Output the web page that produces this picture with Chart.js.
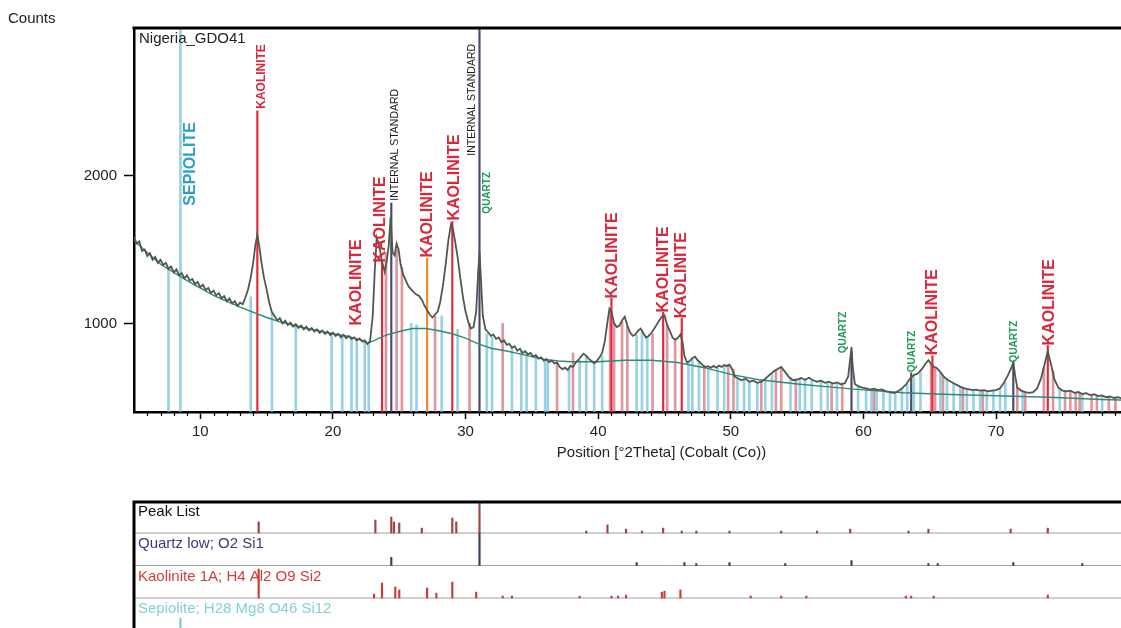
<!DOCTYPE html>
<html>
<head>
<meta charset="utf-8">
<title>Nigeria_GDO41</title>
<script src="https://cdn.jsdelivr.net/npm/chart.js@4.4.1/dist/chart.umd.min.js"></script>
<style>
  html, body { margin: 0; padding: 0; background: #fff; overflow: hidden; }
  #page { position: relative; width: 1121px; height: 628px; overflow: hidden; }
  #mainChart { position: absolute; left: 0; top: 0; }
  #peakChart { position: absolute; left: 0; top: 495px; }
</style>
</head>
<body>
<div id="page">
  <canvas id="mainChart" width="1200" height="470"></canvas>
  <canvas id="peakChart" width="1200" height="140"></canvas>
</div>
<script>
const FONT = '"Liberation Sans", Arial, sans-serif';

// measured scan: [°2Theta, counts]
const measured = [
  [5.0,1585],[5.2,1540],[5.4,1555],[5.6,1490],[5.8,1500],[6.0,1455],[6.2,1475],[6.4,1430],[6.6,1450],[6.8,1410],
  [7.0,1430],[7.2,1395],[7.4,1410],[7.6,1370],[7.8,1385],[8.0,1345],[8.2,1365],[8.4,1325],[8.6,1340],[8.8,1305],
  [9.0,1325],[9.2,1290],[9.4,1300],[9.6,1265],[9.8,1280],[10.0,1245],[10.2,1262],[10.4,1225],[10.6,1240],[10.8,1205],
  [11.0,1222],[11.2,1190],[11.4,1205],[11.6,1170],[11.8,1185],[12.0,1150],[12.2,1168],[12.4,1135],[12.6,1150],[12.8,1118],
  [13.0,1140],[13.2,1130],[13.4,1175],[13.6,1230],[13.8,1310],[14.0,1420],[14.15,1530],[14.3,1600],[14.45,1520],[14.6,1420],
  [14.8,1310],[15.0,1230],[15.2,1140],[15.4,1075],[15.6,1050],[15.8,1020],[16.0,1035],[16.2,1000],[16.4,1018],[16.6,990],
  [16.8,1005],[17.0,978],[17.2,995],[17.4,970],[17.6,985],[17.8,960],[18.0,978],[18.2,952],[18.4,968],[18.6,945],
  [18.8,960],[19.0,935],[19.2,952],[19.4,928],[19.6,945],[19.8,920],[20.0,938],[20.2,915],[20.4,930],[20.6,905],
  [20.8,922],[21.0,900],[21.2,915],[21.4,895],[21.6,905],[21.8,885],[22.0,898],[22.2,878],[22.4,885],[22.6,860],
  [22.8,880],[23.0,1050],[23.15,1350],[23.3,1580],[23.45,1540],[23.6,1470],[23.75,1400],[23.9,1350],[24.05,1420],[24.2,1520],
  [24.35,1720],[24.5,1480],[24.65,1460],[24.8,1540],[24.95,1500],[25.1,1400],[25.3,1330],[25.5,1290],[25.7,1250],[25.9,1230],
  [26.1,1210],[26.3,1195],[26.5,1185],[26.7,1160],[26.9,1120],[27.1,1090],[27.3,1060],[27.5,1040],[27.7,1060],[27.9,1080],
  [28.1,1150],[28.3,1260],[28.5,1400],[28.7,1560],[28.9,1670],[29.05,1640],[29.2,1560],[29.4,1450],[29.6,1310],[29.8,1180],
  [30.0,1080],[30.2,1010],[30.4,965],[30.6,975],[30.8,1080],[30.95,1350],[31.05,1480],[31.15,1320],[31.3,1050],[31.5,960],
  [31.7,940],[31.9,915],[32.1,925],[32.3,895],[32.5,905],[32.7,872],[32.9,885],[33.1,855],[33.3,862],[33.5,835],
  [33.7,845],[33.9,815],[34.1,828],[34.3,800],[34.5,812],[34.7,790],[34.9,800],[35.1,775],[35.3,785],[35.5,762],
  [35.7,770],[35.9,748],[36.1,758],[36.3,738],[36.5,748],[36.7,728],[36.9,735],[37.1,705],[37.3,690],[37.5,700],
  [37.7,685],[37.9,712],[38.1,705],[38.3,735],[38.5,752],[38.7,775],[38.9,795],[39.1,780],[39.3,760],[39.5,745],
  [39.7,730],[39.9,745],[40.1,770],[40.3,800],[40.5,880],[40.7,1010],[40.85,1100],[41.0,1080],[41.2,1000],[41.4,975],
  [41.6,985],[41.8,1020],[42.0,1045],[42.2,985],[42.4,940],[42.6,915],[42.8,925],[43.0,950],[43.2,965],[43.4,935],
  [43.6,905],[43.8,915],[44.0,935],[44.2,960],[44.4,990],[44.6,1020],[44.8,1045],[45.0,1055],[45.2,990],[45.4,950],
  [45.6,905],[45.8,890],[46.0,900],[46.2,925],[46.35,880],[46.5,780],[46.7,735],[46.9,745],[47.1,765],[47.3,775],
  [47.5,750],[47.7,735],[47.9,715],[48.1,705],[48.3,710],[48.5,700],[48.7,712],[48.9,700],[49.1,715],[49.3,705],
  [49.5,718],[49.7,712],[49.9,720],[50.1,690],[50.3,640],[50.5,630],[50.8,615],[51.1,625],[51.4,605],[51.7,612],
  [52.0,598],[52.3,605],[52.6,625],[52.9,650],[53.2,672],[53.5,690],[53.8,705],[54.1,670],[54.4,635],[54.7,615],
  [55.0,620],[55.3,630],[55.6,618],[55.9,632],[56.2,615],[56.5,605],[56.8,612],[57.1,598],[57.4,605],[57.7,592],
  [58.0,600],[58.3,588],[58.6,595],[58.85,640],[59.0,760],[59.1,840],[59.2,700],[59.35,590],[59.6,575],[59.9,565],
  [60.2,560],[60.5,552],[60.8,558],[61.1,548],[61.4,552],[61.7,540],[62.0,535],[62.3,528],[62.6,540],[62.9,560],
  [63.2,585],[63.5,625],[63.8,650],[64.1,660],[64.4,690],[64.7,730],[64.9,750],[65.1,725],[65.3,705],[65.5,700],
  [65.8,670],[66.1,635],[66.4,615],[66.7,600],[67.0,585],[67.3,572],[67.6,560],[67.9,555],[68.2,548],[68.5,552],
  [68.8,545],[69.1,548],[69.4,540],[69.7,545],[70.0,548],[70.3,560],[70.6,600],[70.9,650],[71.15,700],[71.3,735],
  [71.45,640],[71.6,565],[71.9,545],[72.2,535],[72.5,530],[72.8,535],[73.1,560],[73.4,630],[73.65,720],[73.9,810],
  [74.15,720],[74.4,620],[74.7,565],[75.0,545],[75.3,540],[75.6,545],[75.9,530],[76.2,535],[76.5,522],[76.8,528],
  [77.1,515],[77.4,520],[77.7,508],[78.0,512],[78.3,500],[78.6,505],[78.9,495],[79.2,500],[79.5,490],[80.0,488]
];

// fitted background: [°2Theta, counts]
const background = [
  [5,1560],[7,1400],[9,1290],[11,1190],[13,1110],[14,1075],[15,1040],[16,1010],[18,965],[20,930],
  [21,915],[22,890],[22.6,865],[23,880],[24,920],[25,945],[26,965],[27,965],[28,950],[29,930],
  [30,900],[31,860],[32,830],[33,815],[34,795],[35,775],[36,755],[37,745],[38,740],[40,740],
  [42,750],[44,750],[46,735],[48,700],[50,655],[52,620],[55,590],[58,565],[60,550],[63,530],
  [66,520],[70,510],[74,500],[78,485],[80,480]
];

// reference sticks: [°2Theta, top in counts]
const sepioliteSticks = [
  [7.6,1380],[8.5,3000],[13.8,1180],[15.4,1070],[17.2,985],[19.9,925],[20.7,910],[21.4,900],[21.8,890],[22.4,880],
  [22.7,875],[25.9,1000],[26.3,990],[28.2,1050],[29.4,960],[31.6,930],[32.0,910],[33.5,840],[34.2,810],[34.6,800],
  [35.3,780],[36.0,755],[36.2,750],[37.8,700],[38.6,750],[39.1,780],[39.7,735],[40.3,780],[42.9,920],[43.3,940],
  [43.7,905],[46.8,735],[47.1,760],[47.6,740],[48.3,700],[49.0,700],[49.5,710],[50.5,630],[51.0,620],[51.4,605],
  [52.0,600],[52.6,620],[53.1,660],[54.5,630],[55.2,625],[55.6,618],[56.1,615],[56.8,610],[57.3,600],[58.0,600],
  [59.6,575],[60.2,560],[60.6,552],[61.0,550],[61.5,550],[62.0,535],[62.4,530],[62.9,560],[63.3,590],[63.8,640],
  [64.3,670],[65.8,665],[66.3,620],[66.8,595],[67.3,570],[67.8,555],[68.3,550],[68.8,545],[69.3,545],[69.8,545],
  [70.3,555],[70.7,600],[72.0,535],[74.8,560],[76.5,525],[78.0,510]
];
const kaoliniteSticks = [
  [24.0,1480],[24.8,1500],[25.2,1380],[27.7,1050],[30.3,1000],[32.8,1000],[36.9,735],[38.1,800],[40.9,1080],[41.2,1000],
  [41.8,1010],[42.2,980],[44.1,930],[45.2,990],[45.8,890],[48.0,710],[49.8,715],[50.2,690],[52.3,605],[53.4,690],
  [53.8,700],[54.9,618],[57.6,592],[58.4,590],[60.8,556],[65.1,725],[65.4,700],[66.0,640],[67.5,565],[69.0,548],
  [71.6,565],[72.2,535],[73.6,700],[74.3,680],[75.2,545],[75.6,545],[76.0,530],[76.3,535],[77.2,515],[77.6,515],
  [78.5,505],[79.0,500]
];
const kaoliniteMarked = [[14.3,2440],[23.7,1420],[29.0,1690],[41.0,1170],[44.9,1075],[46.3,1035],[65.2,780],[73.9,850]];
const otherMarked = [[27.1,1440]];
const quartzSticks = [[24.4,1815],[31.05,3000],[59.1,800],[63.6,665],[71.3,735]];

// peak annotations: [text, °2Theta, counts at the foot of the label, kind]
const peakLabels = [
  ['SEPIOLITE', 9.25, 1797, 'sepiolite'],
  ['KAOLINITE', 14.6, 2453, 'kaoliniteSmall'],
  ['KAOLINITE', 21.8, 986, 'kaolinite'],
  ['KAOLINITE', 23.6, 1412, 'kaolinite'],
  ['INTERNAL STANDARD', 24.7, 1831, 'standard'],
  ['KAOLINITE', 27.1, 1446, 'kaolinite'],
  ['KAOLINITE', 29.15, 1696, 'kaolinite'],
  ['INTERNAL STANDARD', 30.5, 2135, 'standard'],
  ['QUARTZ', 31.6, 1743, 'quartz'],
  ['KAOLINITE', 41.1, 1169, 'kaolinite'],
  ['KAOLINITE', 44.9, 1074, 'kaolinite'],
  ['KAOLINITE', 46.3, 1034, 'kaolinite'],
  ['QUARTZ', 58.5, 797, 'quartz'],
  ['QUARTZ', 63.7, 669, 'quartz'],
  ['KAOLINITE', 65.2, 784, 'kaolinite'],
  ['QUARTZ', 71.4, 736, 'quartz'],
  ['KAOLINITE', 74.0, 851, 'kaolinite']
];

const xTicks = [10, 20, 30, 40, 50, 60, 70];
const yTicks = [1000, 2000];
const X_MIN = 5, X_MAX = 85, Y_MIN = 400, Y_MAX = 3000;

// lower panel: row baselines 3,2,1,0 ; sticks [°2Theta, height in row units]
const rowNames = ['Peak List', 'Quartz low; O2 Si1', 'Kaolinite 1A; H4 Al2 O9 Si2', 'Sepiolite; H28 Mg8 O46 Si12'];
const peakListSticks = [
  [14.4,.34],[23.2,.40],[24.4,.49],[24.6,.34],[25.0,.31],[26.7,.15],[29.0,.46],[29.3,.34],[31.05,.95],[39.1,.06],
  [40.7,.25],[42.1,.12],[43.3,.06],[44.9,.15],[46.3,.06],[47.4,.06],[49.9,.06],[53.8,.06],[56.5,.06],[59.0,.12],
  [63.4,.06],[64.9,.12],[71.1,.12],[73.9,.15]
];
const quartzRefSticks = [
  [24.4,.25],[31.05,1],[42.9,.09],[46.5,.09],[47.4,.06],[49.9,.09],[54.1,.06],[59.1,.15],[64.9,.06],[65.6,.06],
  [71.3,.09],[76.5,.06]
];
const kaoliniteRefSticks = [
  [14.4,.89],[23.1,.12],[23.7,.46],[24.7,.34],[25.0,.25],[27.1,.31],[27.8,.15],[29.0,.49],[30.8,.18],[32.8,.06],
  [33.5,.06],[38.6,.06],[41.0,.06],[41.5,.06],[42.1,.09],[44.8,.18],[45.0,.21],[46.2,.25],[51.5,.06],[53.8,.06],
  [55.7,.06],[63.2,.06],[63.6,.06],[65.3,.06],[73.9,.09]
];
const sepioliteRefSticks = [[8.5,.38]];

const labelStyle = {
  sepiolite:      { font: 'bold 16px ' + FONT, color: '#2c9fc9' },
  kaolinite:      { font: 'bold 16px ' + FONT, color: '#d8283a' },
  kaoliniteSmall: { font: 'bold 12px ' + FONT, color: '#d8283a' },
  standard:       { font: '10.5px ' + FONT, color: '#1a1a1a' },
  quartz:         { font: 'bold 10px ' + FONT, color: '#1d9a55' }
};

function stickSet(list, base, color, width, order) {
  return {
    type: 'bar',
    data: list.map(([x, top]) => ({ x, y: [base, top] })),
    backgroundColor: color,
    barThickness: width,
    grouped: false,
    order
  };
}

function lineSet(list, color, width, order) {
  return {
    type: 'line',
    data: list.map(([x, y]) => ({ x, y })),
    borderColor: color,
    borderWidth: width,
    pointRadius: 0,
    tension: 0,
    order
  };
}

const mainDecor = {
  id: 'mainDecor',
  afterDatasetsDraw(chart) {
    const { ctx, scales: { x, y } } = chart;
    ctx.save();
    ctx.textAlign = 'left';
    ctx.textBaseline = 'middle';
    peakLabels.forEach(([text, pos, foot, kind]) => {
      const st = labelStyle[kind];
      ctx.save();
      ctx.translate(x.getPixelForValue(pos), y.getPixelForValue(foot));
      ctx.rotate(-Math.PI / 2);
      ctx.font = st.font;
      ctx.fillStyle = st.color;
      ctx.fillText(text, 0, 0);
      ctx.restore();
    });
    ctx.restore();
  },
  afterDraw(chart) {
    const { ctx, chartArea: a, scales: { x } } = chart;
    ctx.save();
    // frame top
    ctx.strokeStyle = '#000';
    ctx.lineWidth = 3;
    ctx.beginPath();
    ctx.moveTo(a.left - 1.5, a.top);
    ctx.lineTo(a.right, a.top);
    ctx.stroke();
    // minor ticks every degree
    ctx.lineWidth = 1.2;
    ctx.beginPath();
    for (let v = X_MIN + 1; v < X_MAX; v++) {
      if (v % 10 === 0) continue;
      const px = Math.round(x.getPixelForValue(v)) + 0.5;
      ctx.moveTo(px, a.bottom);
      ctx.lineTo(px, a.bottom + 4);
    }
    ctx.stroke();
    // texts
    ctx.fillStyle = '#222';
    ctx.font = '15px ' + FONT;
    ctx.textBaseline = 'middle';
    ctx.textAlign = 'left';
    ctx.fillText('Counts', 8, 19);
    ctx.fillText('Nigeria_GDO41', a.left + 5, a.top + 11);
    ctx.textAlign = 'center';
    ctx.fillText('Position [°2Theta] (Cobalt (Co))', (a.left + a.right) / 2 - 3, a.bottom + 41);
    ctx.restore();
  }
};

new Chart(document.getElementById('mainChart'), {
  type: 'bar',
  data: {
    datasets: [
      lineSet(measured, '#4f594b', 1.8, 0),
      lineSet(background, '#2f8a76', 1.4, 1),
      stickSet(quartzSticks, Y_MIN, '#4a4a6e', 1.5, 2),
      stickSet(kaoliniteMarked, Y_MIN, '#e0283a', 1.5, 3),
      stickSet(otherMarked, Y_MIN, '#f08a30', 1.5, 3),
      stickSet(kaoliniteSticks, Y_MIN, 'rgba(200,80,95,0.6)', 2, 4),
      stickSet(sepioliteSticks, Y_MIN, 'rgba(120,195,220,0.75)', 2, 5)
    ]
  },
  options: {
    responsive: false,
    animation: false,
    devicePixelRatio: 1,
    layout: { padding: { top: 28, right: 5, left: 0, bottom: 0 } },
    plugins: { legend: { display: false }, tooltip: { enabled: false } },
    scales: {
      x: {
        type: 'linear', min: X_MIN, max: X_MAX, offset: false,
        afterBuildTicks: s => { s.ticks = xTicks.map(v => ({ value: v })); },
        afterFit: s => { s.height = 58; },
        ticks: { font: { family: FONT, size: 15 }, color: '#222', padding: 4, maxRotation: 0, autoSkip: false, callback: v => String(v) },
        grid: { drawOnChartArea: false, offset: false, tickLength: 7, tickColor: '#000', tickWidth: 1.5 },
        border: { color: '#000', width: 2.5 }
      },
      y: {
        type: 'linear', min: Y_MIN, max: Y_MAX,
        afterBuildTicks: s => { s.ticks = yTicks.map(v => ({ value: v })); },
        afterFit: s => { s.width = 134; },
        ticks: { font: { family: FONT, size: 15 }, color: '#222', padding: 7, callback: v => String(v) },
        grid: { drawOnChartArea: false, tickLength: 10, tickColor: '#000', tickWidth: 1.5 },
        border: { color: '#000', width: 2.5 }
      }
    }
  },
  plugins: [mainDecor]
});

const rowColors = ['#111', '#3a3a78', '#d63c3c', '#86cfd8'];

const peakDecor = {
  id: 'peakDecor',
  afterDraw(chart) {
    const { ctx, chartArea: a, scales: { y } } = chart;
    ctx.save();
    ctx.font = '15px ' + FONT;
    ctx.textAlign = 'left';
    ctx.textBaseline = 'middle';
    rowNames.forEach((name, i) => {
      ctx.fillStyle = rowColors[i];
      ctx.fillText(name, a.left + 4, y.getPixelForValue(3 - i + 0.66));
    });
    ctx.strokeStyle = '#000';
    ctx.lineWidth = 3;
    ctx.beginPath();
    ctx.moveTo(a.left, a.bottom);
    ctx.lineTo(a.left, a.top);
    ctx.lineTo(a.right, a.top);
    ctx.stroke();
    ctx.restore();
  }
};

const rowBase = (list, base) => list.map(([x, h]) => [x, base + h]);

new Chart(document.getElementById('peakChart'), {
  type: 'bar',
  data: {
    datasets: [
      lineSet([[X_MIN, 3], [X_MAX, 3]], '#a0a0a0', 1, 5),
      lineSet([[X_MIN, 2], [X_MAX, 2]], '#a0a0a0', 1, 5),
      lineSet([[X_MIN, 1], [X_MAX, 1]], '#a0a0a0', 1, 5),
      lineSet([[X_MIN, 0], [X_MAX, 0]], '#a0a0a0', 1, 5),
      stickSet(rowBase(peakListSticks, 3), 3, '#9a4444', 1.5, 1),
      stickSet(rowBase(quartzRefSticks, 2), 2, '#3c3c5c', 1.5, 1),
      stickSet(rowBase(kaoliniteRefSticks, 1), 1, '#c83c3c', 1.5, 1),
      stickSet(rowBase(sepioliteRefSticks, 0), 0, '#7fc8d8', 1.5, 1)
    ]
  },
  options: {
    responsive: false,
    animation: false,
    devicePixelRatio: 1,
    layout: { padding: { left: 134, top: 7, right: 5, bottom: 0 } },
    plugins: { legend: { display: false }, tooltip: { enabled: false } },
    scales: {
      x: { type: 'linear', min: X_MIN, max: X_MAX, offset: false, display: false },
      y: { type: 'linear', min: -0.138, max: 3.954, display: false }
    }
  },
  plugins: [peakDecor]
});
</script>
</body>
</html>
